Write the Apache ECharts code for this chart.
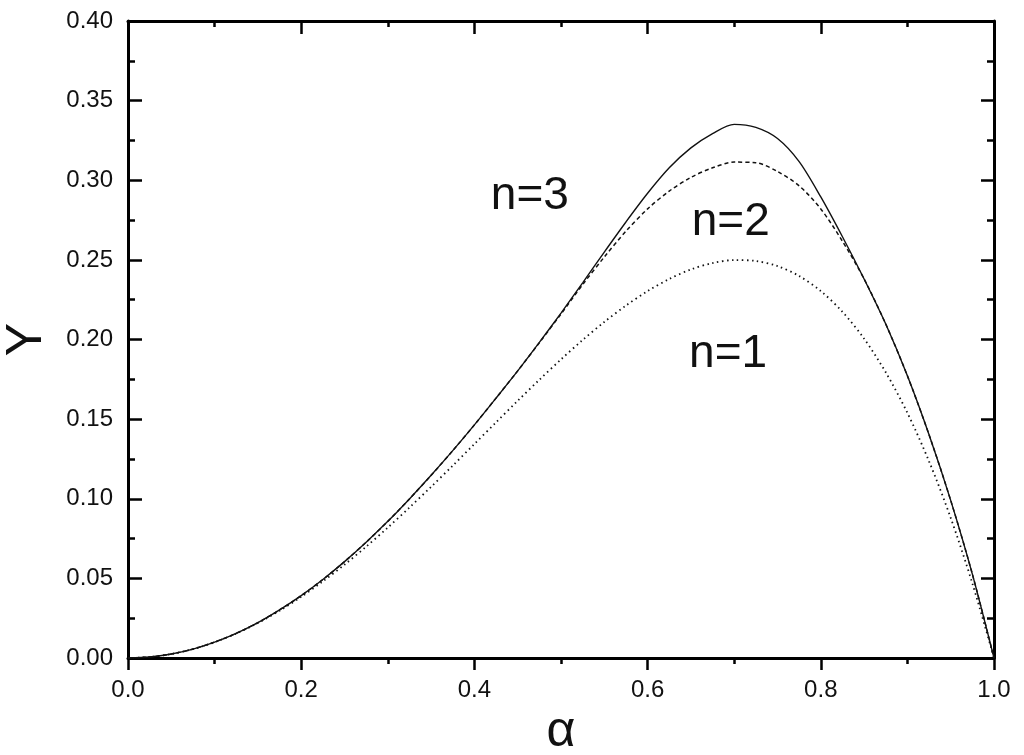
<!DOCTYPE html>
<html>
<head>
<meta charset="utf-8">
<script src="https://cdn.jsdelivr.net/npm/echarts@6/dist/echarts.min.js"></script>
<style>
html,body{margin:0;padding:0;background:#fff;}
#c{width:1024px;height:755px;}
</style>
</head>
<body>
<div id="c"></div>
<script>
// ---- data ----
var alpha = [0.000,0.025,0.050,0.075,0.100,0.125,0.150,0.175,0.200,0.225,0.250,0.275,0.300,0.325,0.350,0.375,0.400,0.425,0.450,0.475,0.500,0.525,0.550,0.575,0.600,0.625,0.650,0.675,0.700,0.725,0.750,0.775,0.800,0.825,0.850,0.875,0.900,0.925,0.950,0.975,1.000];
var yN1 = [0,0.0006,0.0025,0.0056,0.0099,0.0154,0.0220,0.0297,0.0384,0.0481,0.0586,0.0699,0.0819,0.0945,0.1075,0.1208,0.1344,0.1480,0.1615,0.1747,0.1875,0.1997,0.2110,0.2213,0.2304,0.2380,0.2440,0.2480,0.2499,0.2493,0.2461,0.2399,0.2304,0.2174,0.2005,0.1794,0.1539,0.1235,0.0880,0.0469,0];
var yN2 = [0,0.0006,0.0025,0.0056,0.0100,0.0155,0.0222,0.0302,0.0392,0.0493,0.0605,0.0727,0.0858,0.0999,0.1147,0.1302,0.1464,0.1632,0.1803,0.1980,0.2160,0.2345,0.2518,0.2680,0.2820,0.2932,0.3018,0.3078,0.3114,0.3110,0.3055,0.2965,0.2820,0.2617,0.2380,0.2097,0.1772,0.1402,0.0990,0.0527,0];
var yN3 = [0,0.0006,0.0025,0.0056,0.0100,0.0155,0.0222,0.0302,0.0392,0.0493,0.0605,0.0727,0.0858,0.0999,0.1147,0.1302,0.1464,0.1632,0.1803,0.1982,0.2166,0.2356,0.2549,0.2738,0.2918,0.3078,0.3203,0.3293,0.3351,0.3332,0.3262,0.3117,0.2895,0.2645,0.2380,0.2097,0.1772,0.1402,0.0990,0.0527,0];
var seriesNames = ['n=1','n=2','n=3'];
var labelX = [0.693, 0.696, 0.464];
var labelY = [0.191, 0.2735, 0.290];
var xTicks = [0.0,0.2,0.4,0.6,0.8,1.0];
var xTickLabels = ['0.0','0.2','0.4','0.6','0.8','1.0'];
var yTicks = [0.00,0.05,0.10,0.15,0.20,0.25,0.30,0.35,0.40];
var yTickLabels = ['0.00','0.05','0.10','0.15','0.20','0.25','0.30','0.35','0.40'];
var xName = 'α';
var yName = 'Y';

function pairs(ys){ return alpha.map(function(a,i){ return [a, ys[i]]; }); }
function lookup(vals, labels, v){
  for (var i=0;i<vals.length;i++){ if (Math.abs(vals[i]-v) < 1e-6) return labels[i]; }
  return '';
}

var FONT = 'Arial, "Liberation Sans", sans-serif';
var black = '#000';
var axisLineStyle = {color: black, width: 3};
var tickStyle = {color: black, width: 2.5};

var chart = echarts.init(document.getElementById('c'), null, {renderer:'canvas'});
var option = {
  backgroundColor: '#fff',
  animation: false,
  grid: {left:128, right:30, top:21, bottom:97, containLabel:false, outerBoundsMode:'none'},
  xAxis: [
    {type:'value', position:'bottom', min:0, max:1, interval:0.2,
     axisLine:{show:true, onZero:false, lineStyle:axisLineStyle},
     axisTick:{show:true, inside:false, length:12, lineStyle:tickStyle},
     minorTick:{show:true, splitNumber:2, length:6, lineStyle:tickStyle},
     splitLine:{show:false},
     axisLabel:{fontSize:24, fontFamily:FONT, color:'#111', margin:20,
       formatter:function(v){ return lookup(xTicks, xTickLabels, v); }},
     name:xName, nameLocation:'middle', nameGap:44,
     nameTextStyle:{fontSize:50, fontFamily:FONT, color:'#111'}},
    {type:'value', position:'top', min:0, max:1, interval:0.2,
     axisLine:{show:true, onZero:false, lineStyle:axisLineStyle},
     axisTick:{show:true, inside:true, length:13, lineStyle:tickStyle},
     minorTick:{show:true, splitNumber:2, length:6, lineStyle:tickStyle},
     splitLine:{show:false}, axisLabel:{show:false}}
  ],
  yAxis: [
    {type:'value', position:'left', min:0, max:0.4, interval:0.05,
     axisLine:{show:true, onZero:false, lineStyle:axisLineStyle},
     axisTick:{show:true, inside:true, length:14, lineStyle:tickStyle},
     minorTick:{show:true, splitNumber:2, length:7, lineStyle:tickStyle},
     splitLine:{show:false},
     axisLabel:{fontSize:24, fontFamily:FONT, color:'#111', margin:15,
       formatter:function(v){ return lookup(yTicks, yTickLabels, v); }},
     name:yName, nameLocation:'middle', nameGap:76, nameRotate:90,
     nameTextStyle:{fontSize:50, fontFamily:FONT, color:'#111'}},
    {type:'value', position:'right', min:0, max:0.4, interval:0.05,
     axisLine:{show:true, onZero:false, lineStyle:axisLineStyle},
     axisTick:{show:true, inside:true, length:13, lineStyle:tickStyle},
     minorTick:{show:true, splitNumber:2, length:7, lineStyle:tickStyle},
     splitLine:{show:false}, axisLabel:{show:false}}
  ],
  series: [
    {name:seriesNames[0], type:'line', data:pairs(yN1), smooth:0.3, showSymbol:false, symbol:'none',
     lineStyle:{color:'#111', width:1.8, type:[1.5,3.5], cap:'butt'}, z:3},
    {name:seriesNames[1], type:'line', data:pairs(yN2), smooth:0.3, showSymbol:false, symbol:'none',
     lineStyle:{color:'#111', width:1.5, type:[4,3]}, z:4},
    {name:seriesNames[2], type:'line', data:pairs(yN3), smooth:0.3, showSymbol:false, symbol:'none',
     lineStyle:{color:'#111', width:1.4, type:'solid'}, z:5}
  ]
};
chart.setOption(option);

var texts = [];
for (var i=0;i<seriesNames.length;i++){
  var p = chart.convertToPixel({gridIndex:0}, [labelX[i], labelY[i]]);
  texts.push({type:'text', x:p[0], y:p[1], z:10,
    style:{text:seriesNames[i], fontSize:46, fontFamily:FONT, fill:'#111', align:'center', verticalAlign:'middle'}});
}
chart.setOption({graphic: texts});
</script>
</body>
</html>
